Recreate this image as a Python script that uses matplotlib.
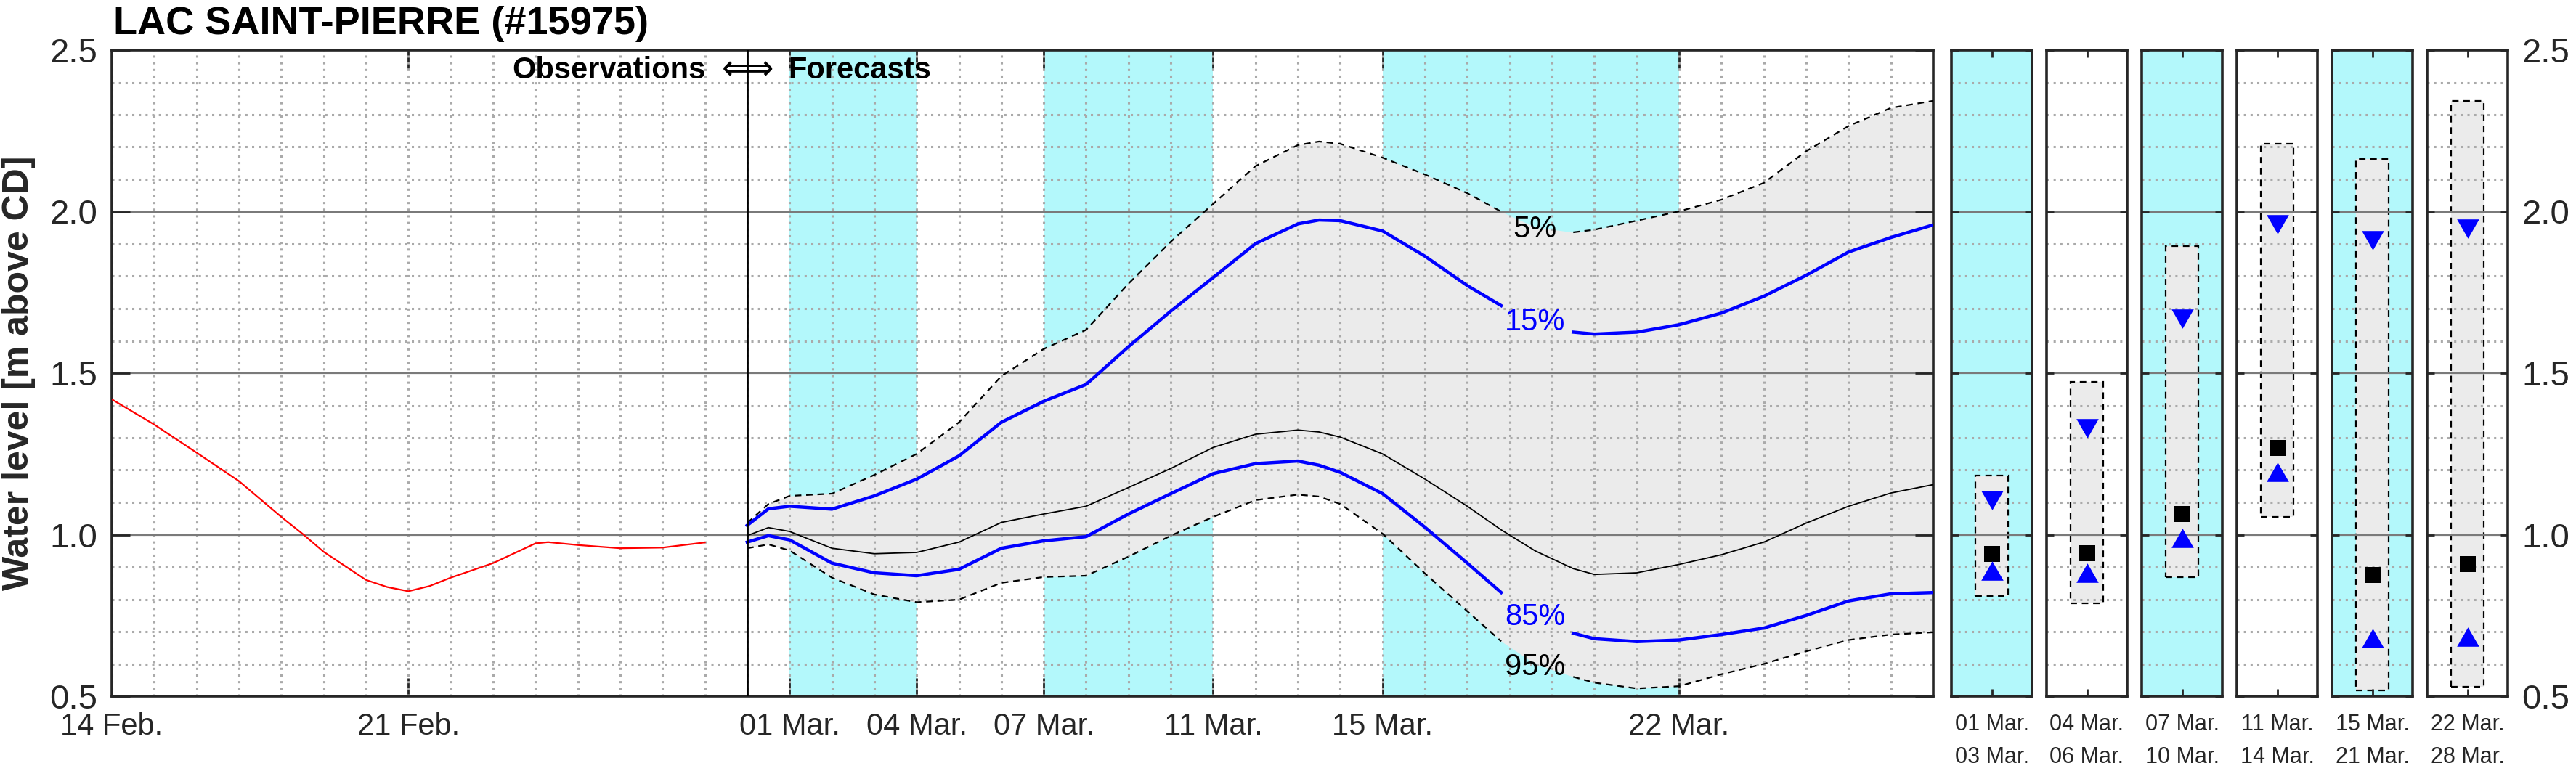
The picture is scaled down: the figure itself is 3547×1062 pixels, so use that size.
import numpy as np
import matplotlib
matplotlib.use("Agg")
import matplotlib.pyplot as plt
from matplotlib.ticker import MultipleLocator, FixedLocator, NullFormatter
from matplotlib.patches import Rectangle

plt.rcParams['font.family'] = ['Liberation Sans', 'DejaVu Sans']

W, H = 3547, 1062
CYAN = '#b3f8fb'
GRAY = '#ebebeb'
INK = '#262626'

title = 'LAC SAINT-PIERRE (#15975)'
ylabel = 'Water level [m above CD]'

# x axis: days after 14 Feb. 00:00
tick_days = [0, 7, 16, 19, 22, 26, 30, 37]
tick_labels = ['14 Feb.', '21 Feb.', '01 Mar.', '04 Mar.', '07 Mar.', '11 Mar.', '15 Mar.', '22 Mar.']
x_end = 43
forecast_start = 15  # 29 Feb.

shade_start = [16, 22, 30]
shade_end = [19, 26, 37]

# observed water level
obs_day = [0, 1, 2, 3, 4, 4.5, 5, 6, 6.5, 7, 7.5, 8, 9, 10, 10.3, 11, 12, 13, 14]
obs_level = [1.419, 1.341, 1.254, 1.166, 1.055, 1.003, 0.947, 0.860, 0.838, 0.825,
             0.841, 0.867, 0.912, 0.973, 0.977, 0.968, 0.958, 0.960, 0.976]

# forecast, days after forecast start
fc_day = [0, 0.5, 1, 2, 3, 4, 5, 6, 7, 8, 9, 10, 11, 12, 13, 13.5, 14, 15, 16, 17,
          17.8, 18.6, 19.5, 20, 21, 22, 23, 24, 25, 26, 27, 28]
q05 = [1.036, 1.095, 1.120, 1.127, 1.185, 1.250, 1.348, 1.491, 1.575, 1.634, 1.777,
       1.907, 2.024, 2.141, 2.206, 2.217, 2.210, 2.167, 2.115, 2.057,
       2.000, 1.952, 1.936, 1.944, 1.972, 2.001, 2.037, 2.089, 2.187, 2.265, 2.321, 2.343]
q15 = [1.029, 1.080, 1.088, 1.079, 1.120, 1.172, 1.244, 1.348, 1.413, 1.465, 1.582,
       1.692, 1.796, 1.901, 1.962, 1.974, 1.972, 1.940, 1.862, 1.771,
       1.709, 1.660, 1.627, 1.621, 1.627, 1.650, 1.686, 1.738, 1.803, 1.875, 1.920, 1.959]
q50 = [0.997, 1.022, 1.010, 0.958, 0.941, 0.945, 0.977, 1.038, 1.064, 1.088, 1.146,
       1.205, 1.270, 1.311, 1.324, 1.318, 1.302, 1.250, 1.172, 1.088,
       1.015, 0.950, 0.895, 0.877, 0.882, 0.908, 0.938, 0.977, 1.036, 1.088, 1.129, 1.155]
q85 = [0.977, 0.997, 0.984, 0.912, 0.882, 0.873, 0.893, 0.958, 0.981, 0.994, 1.064,
       1.127, 1.189, 1.220, 1.228, 1.215, 1.193, 1.127, 1.023, 0.912,
       0.821, 0.745, 0.695, 0.678, 0.669, 0.674, 0.691, 0.711, 0.750, 0.795, 0.817, 0.821]
q95 = [0.958, 0.970, 0.951, 0.867, 0.815, 0.791, 0.799, 0.851, 0.869, 0.873, 0.932,
       0.997, 1.055, 1.107, 1.124, 1.118, 1.095, 1.003, 0.880, 0.763,
       0.670, 0.600, 0.560, 0.542, 0.524, 0.531, 0.568, 0.600, 0.639, 0.674, 0.691, 0.698]

label_day = 18.6
label_text = ['5%', '15%', '85%', '95%']
label_level = [1.946, 1.657, 0.746, 0.590]
label_color = ['black', 'blue', 'blue', 'black']

# period summary panels
panel_start = ['01 Mar.', '04 Mar.', '07 Mar.', '11 Mar.', '15 Mar.', '22 Mar.']
panel_end = ['03 Mar.', '06 Mar.', '10 Mar.', '14 Mar.', '21 Mar.', '28 Mar.']
panel_shaded = [True, False, True, False, True, False]
panel_top = [1.184, 1.473, 1.894, 2.210, 2.164, 2.343]
panel_bot = [0.810, 0.788, 0.868, 1.054, 0.517, 0.530]
panel_q15 = [1.106, 1.330, 1.669, 1.961, 1.912, 1.948]
panel_q50 = [0.940, 0.942, 1.063, 1.269, 0.875, 0.909]
panel_q85 = [0.888, 0.883, 0.989, 1.194, 0.680, 0.685]

DASH = (0, (4, 3))
tri_down = [(-1, 0.87), (1, 0.87), (0, -0.87)]
tri_up = [(-1, -0.87), (1, -0.87), (0, 0.87)]


def style_grid(a):
    a.set_axisbelow('line')
    a.grid(which='minor', axis='y', color='#aaaaaa', ls=(0, (1, 2)), lw=2.2)
    a.grid(which='major', axis='y', color='#7a7a7a', ls='-', lw=1.6)
    for s in a.spines.values():
        s.set_linewidth(2.6)
        s.set_color(INK)


fig = plt.figure(figsize=(W / 100, H / 100), dpi=100)

# ---- main axes ----
ax = fig.add_axes([154 / W, 1 - 959 / H, (2662 - 154) / W, (959 - 69) / H])
for s, e in zip(shade_start, shade_end):
    ax.axvspan(s, e, color=CYAN, lw=0, zorder=0.2)

fx = np.array(fc_day) + forecast_start
t = np.array(fc_day)
gap = (t > 17.8) & (t < 19.5)


def cut(v):
    v = np.array(v, dtype=float)
    v[gap] = np.nan
    return v


ax.fill_between(fx, q95, q05, color=GRAY, lw=0, zorder=1)
ax.plot(fx, cut(q05), color='black', lw=1.6, ls=DASH, zorder=3)
ax.plot(fx, cut(q95), color='black', lw=1.6, ls=DASH, zorder=3)
ax.plot(fx, q50, color='black', lw=1.3, zorder=3)
ax.plot(fx, cut(q15), color='blue', lw=3.2, zorder=4)
ax.plot(fx, cut(q85), color='blue', lw=3.2, zorder=4)
ax.plot(obs_day, obs_level, color='red', lw=1.6, zorder=3)
ax.axvline(forecast_start, color='black', lw=2, zorder=5)

for txt, lev, col in zip(label_text, label_level, label_color):
    ax.text(forecast_start + label_day, lev, txt, color=col, fontsize=30,
            ha='center', va='center', zorder=6)

ax.text(forecast_start - 0.98, 2.437, 'Observations', fontsize=30, weight='bold',
        ha='right', va='center', zorder=6)
ax.text(forecast_start + 0.05, 2.437, '\u21d0', fontsize=33, family='DejaVu Sans',
        ha='right', va='center', zorder=6)
ax.text(forecast_start - 0.05, 2.437, '\u21d2', fontsize=33, family='DejaVu Sans',
        ha='left', va='center', zorder=6)
ax.text(forecast_start + 0.96, 2.437, 'Forecasts', fontsize=30, weight='bold',
        ha='left', va='center', zorder=6)

ax.set_xlim(0, x_end)
ax.set_ylim(0.5, 2.5)
ax.xaxis.set_major_locator(FixedLocator(tick_days))
ax.set_xticklabels(tick_labels)
ax.xaxis.set_minor_locator(MultipleLocator(1))
ax.xaxis.remove_overlapping_locs = False
ax.yaxis.set_major_locator(MultipleLocator(0.5))
ax.yaxis.set_minor_locator(MultipleLocator(0.1))
ax.yaxis.set_major_formatter(plt.FormatStrFormatter('%.1f'))
style_grid(ax)
ax.grid(which='minor', axis='x', color='#aaaaaa', ls=(0, (1, 2)), lw=2.2)
ax.tick_params(which='major', direction='in', length=18, width=2, color=INK,
               top=True, right=True, labelcolor=INK)
ax.tick_params(axis='x', which='major', labelsize=30, pad=16)
ax.tick_params(axis='y', which='major', labelsize=34, pad=14)
ax.tick_params(which='minor', length=0)

# ---- period panels ----
for i in range(len(panel_start)):
    left = 2687 + 131 * i
    pax = fig.add_axes([left / W, 1 - 959 / H, 111 / W, (959 - 69) / H])
    if panel_shaded[i]:
        pax.set_facecolor(CYAN)
    pax.set_xlim(0, 1)
    pax.set_ylim(0.5, 2.5)
    pax.add_patch(Rectangle((0.3, panel_bot[i]), 0.4, panel_top[i] - panel_bot[i],
                            facecolor=GRAY, edgecolor='black', lw=1.6, ls=DASH, zorder=1))
    pax.plot(0.5, panel_q15[i], marker=tri_down, color='blue', ms=22, mew=0, zorder=4)
    pax.plot(0.5, panel_q50[i], marker='s', color='black', ms=15.5, mew=0, zorder=4)
    pax.plot(0.5, panel_q85[i], marker=tri_up, color='blue', ms=22, mew=0, zorder=4)
    pax.xaxis.set_major_locator(FixedLocator([0.5]))
    pax.xaxis.set_major_formatter(NullFormatter())
    pax.yaxis.set_major_locator(MultipleLocator(0.5))
    pax.yaxis.set_minor_locator(MultipleLocator(0.1))
    pax.yaxis.set_major_formatter(plt.FormatStrFormatter('%.1f'))
    style_grid(pax)
    last = i == len(panel_start) - 1
    pax.tick_params(which='major', direction='in', length=7, width=2, color=INK,
                    top=True, right=True, labelleft=False, labelright=last,
                    labelsize=34, pad=14, labelcolor=INK)
    pax.tick_params(which='minor', length=0)
    cx = (left + 55.5) / W
    fig.text(cx, 1 - 998 / H, panel_start[i], ha='center', va='center', fontsize=22, color=INK)
    fig.text(cx, 1 - 1043 / H, panel_end[i], ha='center', va='center', fontsize=22, color=INK)

fig.text(156 / W, 1 - 47 / H, title, fontsize=39, weight='bold', ha='left', va='baseline')
fig.text(26 / W, 1 - 514 / H, ylabel, fontsize=36, weight='bold', rotation=90,
         ha='center', va='center', color=INK)

fig.savefig('out.png', dpi=100)
